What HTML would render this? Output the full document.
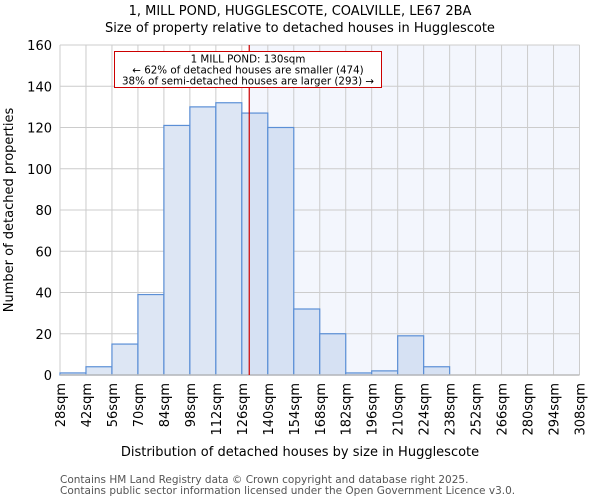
<!DOCTYPE html>
<html><head><meta charset="utf-8"><style>
body{margin:0;background:#fff;font-family:"DejaVu Sans","Liberation Sans",sans-serif;}
</style></head><body>
<svg width="600" height="500" xmlns="http://www.w3.org/2000/svg" font-family="DejaVu Sans, Liberation Sans, sans-serif">
<text x="300" y="15" text-anchor="middle" font-size="13">1, MILL POND, HUGGLESCOTE, COALVILLE, LE67 2BA</text>
<text x="300" y="32" text-anchor="middle" font-size="13">Size of property relative to detached houses in Hugglescote</text>
<g id="plot"></g>
<text x="300" y="456" text-anchor="middle" font-size="13">Distribution of detached houses by size in Hugglescote</text>
<text transform="translate(13,210) rotate(-90)" text-anchor="middle" font-size="13">Number of detached properties</text>
<text x="60" y="483" font-size="10.5" fill="#555">Contains HM Land Registry data © Crown copyright and database right 2025.</text>
<text x="60" y="494" font-size="10.5" fill="#555">Contains public sector information licensed under the Open Government Licence v3.0.</text>
</svg>
<script>
const binStarts=[28,42,56,70,84,98,112,126,140,154,168,182,196,210,224,238,252,266,280,294];
const counts=[1,4,15,39,121,130,132,127,120,32,20,1,2,19,4,0,0,0,0,0];
const yTicks=[0,20,40,60,80,100,120,140,160];
const xTickLabels=["28sqm","42sqm","56sqm","70sqm","84sqm","98sqm","112sqm","126sqm","140sqm","154sqm","168sqm","182sqm","196sqm","210sqm","224sqm","238sqm","252sqm","266sqm","280sqm","294sqm","308sqm"];
const xTickValues=[28,42,56,70,84,98,112,126,140,154,168,182,196,210,224,238,252,266,280,294,308];
const subjectSize=130;
const X0=60,X1=579.5,Y0=375,Y1=45,xmin=28,xmax=308,ymax=160,binW=14;
const xs=v=>X0+(v-xmin)/(xmax-xmin)*(X1-X0);
const ys=v=>Y0-v/ymax*(Y0-Y1);
const NS="http://www.w3.org/2000/svg";
const g=document.getElementById('plot');
function mk(t,a){const e=document.createElementNS(NS,t);for(const k in a)e.setAttribute(k,a[k]);g.appendChild(e);return e;}
let e;
e=mk('rect',{x:xs(subjectSize),y:Y1,width:X1-xs(subjectSize),height:Y0-Y1,fill:'#f3f6fd'});


yTicks.forEach(t=>{
 e=mk('line',{x1:X0,x2:X1,y1:ys(t),y2:ys(t),stroke:'#ccc','stroke-width':1});
 
 
 e=mk('text',{x:X0-8,y:ys(t)+5,'text-anchor':'end','font-size':13});
 e.textContent=t;
 
 
});
xTickValues.forEach((v,i)=>{
 e=mk('line',{x1:xs(v),x2:xs(v),y1:Y1,y2:Y0,stroke:'#ccc','stroke-width':1});
 
 
 e=mk('text',{transform:`translate(${xs(v)+5},${Y0+8}) rotate(-90)`,'text-anchor':'end','font-size':13});
 e.textContent=xTickLabels[i];
 
 
});
binStarts.forEach((b,i)=>{
 if(counts[i]<=0)return;
 e=mk('rect',{x:xs(b),y:ys(counts[i]),width:xs(b+binW)-xs(b),height:Y0-ys(counts[i]),fill:b+binW>subjectSize?'#d6e1f3':'#dde6f4',stroke:'#5b8fd6','stroke-width':1.2});
 
 
});
e=mk('line',{x1:X0,x2:X1,y1:Y0,y2:Y0,stroke:'#bbb','stroke-width':1.5});


e=mk('line',{x1:xs(subjectSize),x2:xs(subjectSize),y1:Y1,y2:Y0,stroke:'#cc0000','stroke-width':1.2});


e=mk('rect',{x:114.5,y:51.5,width:267,height:36,fill:'#fff',stroke:'#cc0000','stroke-width':1});


["1 MILL POND: 130sqm","← 62% of detached houses are smaller (474)","38% of semi-detached houses are larger (293) →"].forEach((s,i)=>{
 e=mk('text',{x:248,y:62.5+i*11,'text-anchor':'middle','font-size':10.3});
 e.textContent=s;
 
 
});
</script>
</body></html>
